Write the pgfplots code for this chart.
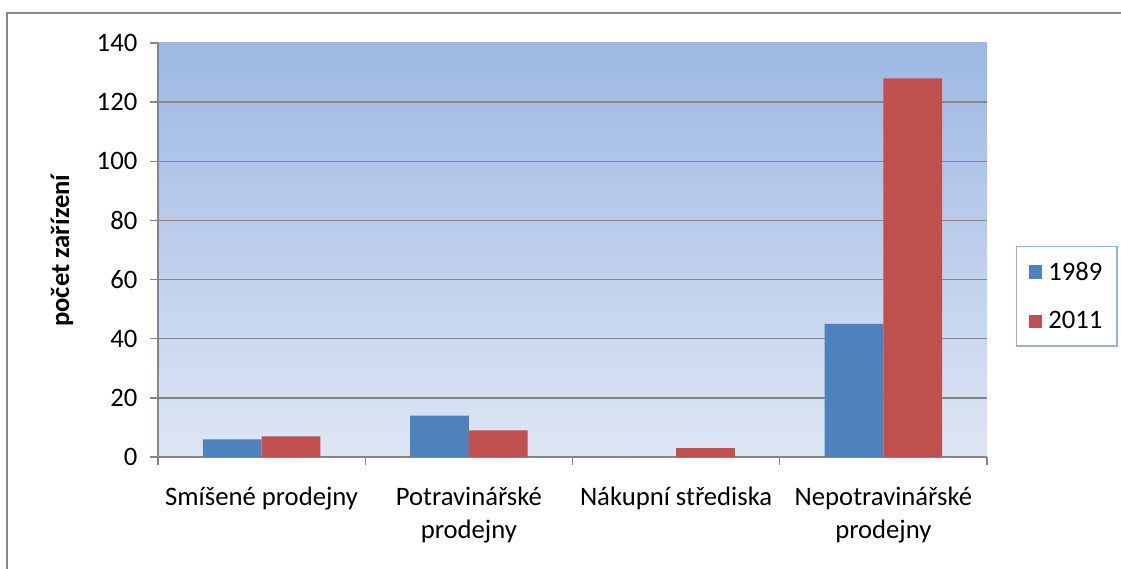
\documentclass[border=0pt]{standalone}
\usepackage{fontspec}
\setmainfont{Carlito}
\usepackage{pgfplots}
\pgfplotsset{compat=1.18}
\definecolor{cblue}{HTML}{4F81BD}
\definecolor{cred}{HTML}{C0504D}
\definecolor{gridgray}{HTML}{868686}
\definecolor{bgtop}{HTML}{9CB8E4}
\definecolor{bgbot}{HTML}{DEE6F4}
\definecolor{legborder}{HTML}{95B3D7}
\begin{document}
\begin{tikzpicture}
\path[use as bounding box] (0,0) rectangle (840.75pt,426pt);
\draw[gridgray, line width=1.5pt] (5.25pt,-2pt) -- (5.25pt,416.25pt) -- (845pt,416.25pt);
\begin{axis}[
  at={(118.5pt,83.25pt)}, anchor=south west,
  scale only axis, width=621.75pt, height=310.5pt,
  ybar=0pt, bar width=44pt,
  xmin=-0.5, xmax=3.5, ymin=0, ymax=140,
  axis background/.style={shade, top color=bgtop, bottom color=bgbot},
  axis x line*=bottom, axis y line*=left,
  axis line style={gridgray, line width=1pt, -},
  tick align=outside,
  xtick={0,1,2,3},
  xticklabels={Smíšené prodejny, {Potravinářské\\prodejny}, Nákupní střediska, {Nepotravinářské\\prodejny}},
  xticklabel style={align=center, anchor=north, yshift=-13pt, font=\fontsize{20}{24.75}\selectfont},
  major x tick style={draw=none},
  minor xtick={-0.5,0.5,1.5,2.5,3.5},
  minor tick length=6pt,
  minor x tick style={gridgray, line width=1pt},
  ytick={0,20,...,140},
  major tick length=6pt,
  major y tick style={gridgray, line width=1pt},
  yticklabel style={font=\fontsize{20}{24}\selectfont, xshift=-6pt},
  /pgf/number format/assume math mode=true,
  extra y ticks={20,40,60,80,100,120},
  extra y tick labels={},
  extra y tick style={grid=major, major tick length=0pt},
  major grid style={gridgray, line width=1pt},
  ylabel={\textbf{počet zařízení}},
  ylabel style={at={(axis description cs:-0.1158,0.5)}, anchor=center, rotate=0, font=\fontsize{20}{24}\selectfont},
  legend style={at={(rel axis cs:1.035,0.51)}, anchor=north west, draw=legborder, line width=1pt,
    font=\fontsize{20}{24}\selectfont, row sep=18pt, column sep=3pt, inner xsep=9pt, inner ysep=9.5pt},
  legend cell align=left,
]
\addplot[fill=cblue, draw=none, legend image code/.code={\fill[cblue] (0pt,-4.9pt) rectangle (9.75pt,4.9pt);}]
  coordinates {(0,6) (1,14) (2,0) (3,45)};
\addplot[fill=cred, draw=none, legend image code/.code={\fill[cred] (0pt,-4.9pt) rectangle (9.75pt,4.9pt);}]
  coordinates {(0,7) (1,9) (2,3) (3,128)};
\legend{1989,2011}
\end{axis}
\end{tikzpicture}
\end{document}
